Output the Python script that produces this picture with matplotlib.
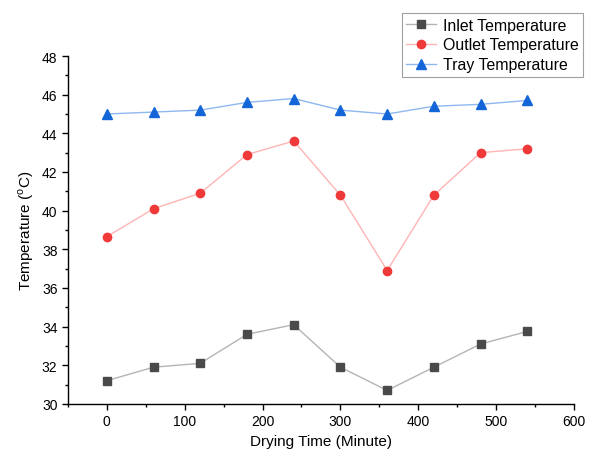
import matplotlib
matplotlib.use("Agg")
import matplotlib.pyplot as plt
from matplotlib.ticker import MultipleLocator

plt.rcParams['font.family'] = ['Liberation Sans', 'DejaVu Sans']
plt.rcParams['mathtext.fontset'] = 'custom'
plt.rcParams['mathtext.rm'] = 'Liberation Sans'

# drying time (minutes)
time_min = [0, 60, 120, 180, 240, 300, 360, 420, 480, 540]
inlet_temp = [31.2, 31.9, 32.1, 33.6, 34.1, 31.9, 30.7, 31.9, 33.1, 33.75]
outlet_temp = [38.65, 40.1, 40.9, 42.9, 43.6, 40.8, 36.9, 40.8, 43.0, 43.2]
tray_temp = [45.0, 45.1, 45.2, 45.6, 45.8, 45.2, 45.0, 45.4, 45.5, 45.7]

fig = plt.figure(figsize=(5.9, 4.56), dpi=100)
ax = fig.add_axes([0.115, 0.112, 0.858, 0.763])

ax.plot(time_min, inlet_temp, color='#b4b4b4', lw=1,
        marker='s', ms=6, mfc='#4a4a4a', mec='#4a4a4a', label='Inlet Temperature')
ax.plot(time_min, outlet_temp, color='#ffb4b4', lw=1,
        marker='o', ms=6, mfc='#f03a3a', mec='#f03a3a', label='Outlet Temperature')
ax.plot(time_min, tray_temp, color='#8fb8f0', lw=1,
        marker='^', ms=7, mfc='#1466d8', mec='#1466d8', label='Tray Temperature')

ax.set_xlim(-50, 600)
ax.set_ylim(30, 48)
ax.xaxis.set_major_locator(MultipleLocator(100))
ax.xaxis.set_minor_locator(MultipleLocator(50))
ax.yaxis.set_major_locator(MultipleLocator(2))
ax.yaxis.set_minor_locator(MultipleLocator(1))
ax.tick_params(which='major', length=4, width=1, labelsize=10)
ax.tick_params(which='minor', length=2.5, width=1)

for s in ['top', 'right']:
    ax.spines[s].set_visible(False)
for s in ['left', 'bottom']:
    ax.spines[s].set_linewidth(1)

ax.set_xlabel('Drying Time (Minute)', fontsize=11)
ax.set_ylabel(r'Temperature ($^{\mathrm{o}}$C)', fontsize=11)

leg = ax.legend(loc='upper right', bbox_to_anchor=(1.018, 1.124), fontsize=11.4,
                frameon=True, fancybox=False, edgecolor='#888888',
                handlelength=1.9, borderpad=0.3, labelspacing=0.3, handletextpad=0.4,
                borderaxespad=0)
leg.get_frame().set_linewidth(0.8)

fig.savefig('out.png', dpi=100)
